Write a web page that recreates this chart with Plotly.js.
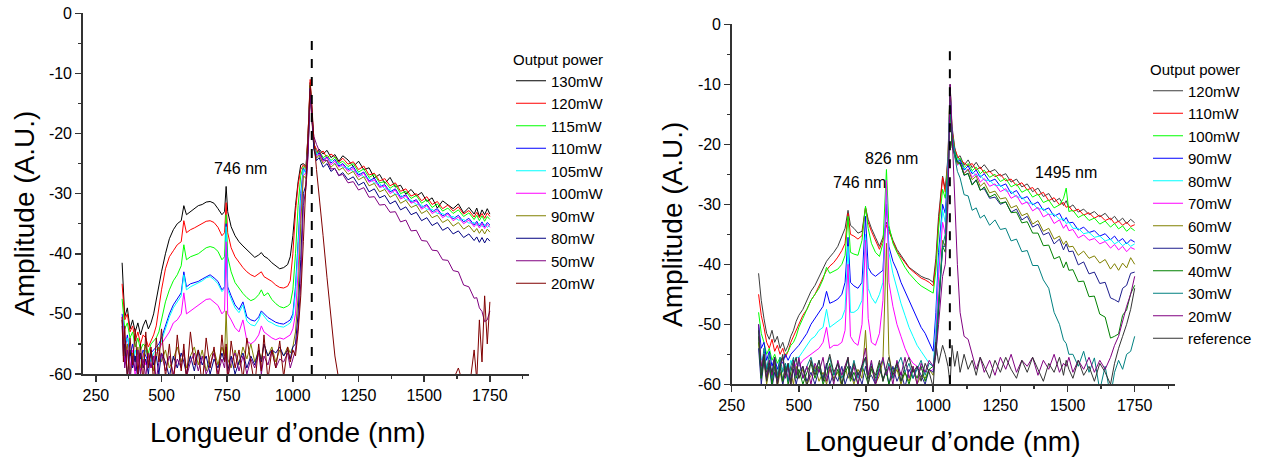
<!DOCTYPE html>
<html>
<head>
<meta charset="utf-8">
<script src="https://cdn.plot.ly/plotly-3.0.1.min.js"></script>
<style>html,body{margin:0;padding:0;background:#fff;}#chart{width:1277px;height:461px;}</style>
</head>
<body>
<div id="chart"></div>
<script>
// ---------------- LEFT PANEL DATA ----------------
const xLeft = [
350,355,360,370,380,390,400,410,420,430,
440,450,460,470,480,490,500,515,530,545,
560,575,585,595,610,625,640,655,670,685,
700,715,730,740,746,752,765,780,795,810,
825,840,855,870,880,890,905,920,935,950,
965,980,990,1000,1010,1020,1030,1040,1050,1058,
1066,1072,1080,1090,1100,1115,1130,1145,1160,1175,
1190,1210,1230,1250,1270,1290,1310,1330,1350,1370,
1390,1410,1430,1450,1470,1490,1510,1530,1550,1570,
1590,1610,1630,1650,1670,1690,1700,1710,1720,1730,
1740,1750];

const leftNames = ['130mW','120mW','115mW','110mW','105mW','100mW','90mW','80mW','50mW','20mW'];
const leftColors = ['#000000','#ff0000','#00ff00','#0000ff','#00ffff','#ff00ff','#808000','#000080','#800080','#800000'];

const left130 = [
-41.5,-46,-50.5,-49,-52.5,-51,-53,-51.5,-53.5,-52,
-51,-52.5,-51.5,-50,-47.5,-45,-43,-40,-37.5,-36,
-35,-34.5,-32,-33.5,-33,-32.5,-32,-31.8,-31.4,-31.3,
-31.6,-32.5,-33.5,-33,-28.8,-33,-35.5,-37,-38,-38.7,
-39.3,-40,-40.6,-40.2,-39.8,-40.4,-40.8,-41.5,-42,-42.5,
-42.3,-41.8,-40.5,-37,-32,-28,-25.2,-25,-25.5,-20,
-11.5,-16,-21.5,-23.3,-22.6,-23.4,-22.8,-24,-23.5,-24.6,
-23.7,-24.4,-25.5,-24.6,-26,-25.7,-27.4,-26.8,-28.3,-27.3,
-28.9,-28.6,-30.1,-29.3,-30.4,-29.8,-31.3,-30.7,-32.4,-31.2,
-31.8,-32.5,-31.7,-33.2,-32.3,-33.4,-32.4,-33.8,-32.7,-33.5,
-32.5,-33.4];
const left120 = [
-45,-47.5,-51,-50,-53,-52,-54.5,-53,-55,-53.5,
-54,-55.5,-54.5,-53.5,-52,-49,-46,-42.5,-40.5,-39.5,
-38.5,-38,-34.5,-36.5,-36,-35.7,-35.3,-35,-34.6,-34.5,
-34.8,-35.6,-37,-36.5,-31.5,-36.5,-39,-40.5,-41.5,-42.3,
-43,-43.5,-43.8,-43.4,-43,-43.8,-44.2,-44.6,-45.2,-45.6,
-45.7,-45.4,-44.5,-40,-33,-28.5,-26,-25.2,-25.8,-20,
-11,-15.5,-21.8,-22.6,-23.5,-22.9,-24.1,-23.4,-23.9,-24.8,
-24.1,-25.1,-24.7,-26,-25.4,-26.9,-26.6,-27.9,-27.5,-28.7,
-28.2,-29.6,-29.2,-30.4,-30,-31.2,-30.5,-31.8,-31.3,-32.5,
-31.9,-32.9,-32.2,-33.4,-32.8,-33.9,-33.1,-34,-33.3,-34.1,
-33.2,-33.8];
const left115 = [
-47.5,-50,-52.5,-51.5,-54,-53,-55.5,-54,-56,-55,
-55.5,-56.5,-55,-54.5,-54,-53,-51,-48,-46,-44.5,
-43.5,-42,-38.5,-41,-40.5,-40.2,-40,-39.5,-39,-38.8,
-39,-39.6,-41,-40.5,-33.5,-40.5,-43,-44.8,-45.8,-46.6,
-47.3,-47.8,-47.5,-46.8,-46,-47,-46.5,-47.6,-48.3,-48.8,
-49,-48.7,-48.3,-46,-40,-32,-27,-25.5,-26,-21,
-12,-16,-22,-23.4,-22.9,-24,-23.6,-24.5,-23.9,-25,
-24.6,-25.5,-25,-26.4,-25.9,-27.3,-26.8,-28.2,-28,-29.1,
-28.5,-30,-29.6,-30.8,-30.3,-31.6,-31,-32.3,-31.7,-32.9,
-32.4,-33.3,-32.7,-33.8,-33.2,-34.3,-33.6,-34.5,-33.7,-34.6,
-33.8,-34.3];
const left110 = [
-50,-52,-56,-53.5,-57,-55,-58,-56,-57.5,-56,
-57,-58,-56.5,-56,-55.5,-55,-54,-52,-50,-48.5,
-47.5,-46.5,-43,-45.5,-45,-44.8,-44.6,-44.2,-43.8,-43.5,
-44,-44.6,-46,-45.5,-35,-45.5,-47,-48.5,-49.3,-48,
-50.5,-51,-51.2,-50.5,-49.5,-50,-50.6,-51,-51.4,-51.6,
-51.7,-51.3,-51,-50,-45.5,-38,-30,-25.8,-26.5,-21.5,
-12.5,-16.5,-22.2,-23.6,-23.2,-24.4,-23.9,-24.9,-24.3,-25.4,
-25,-26,-25.5,-26.9,-26.4,-27.9,-27.4,-28.8,-28.5,-29.7,
-29.2,-30.6,-30.2,-31.4,-31,-32.3,-31.8,-33,-32.5,-33.7,
-33.2,-34.2,-33.6,-34.7,-34.1,-35.2,-34.6,-35.4,-34.7,-35.5,
-34.8,-35.2];
const left105 = [
-51,-53,-55,-54,-56,-57.5,-56,-58,-56.5,-57.5,
-56,-57,-58,-56.5,-56,-55.5,-54.5,-52.5,-50.5,-49,
-48,-47,-43.5,-46,-45.5,-45.2,-44.9,-44.5,-44,-43.8,
-44.3,-45,-46.3,-45.8,-35.5,-46,-47.5,-49,-49.8,-48.5,
-51.2,-51.8,-52,-51,-49.8,-50.4,-51.2,-51.5,-51.9,-52.1,
-52.2,-51.8,-51.5,-50.5,-46.5,-39,-31,-26,-26.7,-22,
-12.5,-16.8,-22.3,-23.3,-23.8,-24.1,-24.6,-24.4,-25.1,-25,
-25.6,-25.7,-26.3,-26.5,-27.2,-27.4,-28.2,-28.3,-29.2,-29.3,
-30.1,-30.2,-31,-31.1,-31.8,-31.9,-32.6,-32.6,-33.3,-33.3,
-33.9,-33.8,-34.4,-34.3,-34.9,-34.8,-35.3,-35,-35.5,-35.1,
-35.6,-35.3];
const left100 = [
-50.5,-53,-58,-55,-59,-56,-60.5,-57,-59.5,-56.5,
-58.5,-57,-59,-57.5,-56.5,-56,-55,-54,-53,-51.5,
-51,-50,-46.5,-50,-49.5,-49,-48.5,-48,-47.6,-47.5,
-48,-48.6,-50,-49.5,-38,-50,-51,-52.3,-53,-51,
-54.5,-55,-54.5,-53.5,-52,-53,-53.5,-54,-54.3,-54,
-54.2,-53.8,-53.5,-52.5,-50,-43,-33,-27,-26.5,-22,
-12.5,-17,-22.4,-23.9,-23.4,-24.7,-24,-25.2,-24.6,-25.6,
-25.2,-26.3,-25.8,-27.2,-26.6,-28.1,-27.7,-29,-28.7,-30,
-29.4,-30.9,-30.4,-31.6,-31.2,-32.6,-32,-33.3,-32.8,-34,
-33.4,-34.5,-33.9,-35,-34.4,-35.5,-34.9,-35.7,-35,-35.8,
-35.1,-35.6];
const left90 = [
-51,-54,-57,-55,-60,-56.5,-58,-55.5,-59,-57,
-55,-58.5,-56,-59.5,-57,-55.5,-58,-56,-59,-57.5,
-55.5,-58,-56.5,-59,-57,-55.5,-58.5,-56,-59.5,-57,
-56,-58.5,-55.5,-57,-49.5,-57.5,-59,-56,-58.5,-55.5,
-57.5,-55,-58,-56,-57.5,-55,-57,-55.5,-58,-56,
-57,-55.5,-56.5,-55.5,-53,-47,-35,-27,-27.5,-22.5,
-13,-17.5,-22.5,-24.1,-23.6,-25,-24.4,-25.6,-25,-26.1,
-25.7,-26.8,-26.3,-27.7,-27.2,-28.7,-28.3,-29.7,-29.3,-30.6,
-30.1,-31.6,-31.1,-32.3,-31.9,-33.3,-32.8,-34,-33.6,-34.8,
-34.3,-35.4,-34.8,-35.9,-35.3,-36.4,-35.8,-36.6,-35.9,-36.7,
-35.9,-36.4];
const left80 = [
-52,-57,-55,-60.5,-56,-59,-57,-61,-56.5,-59,
-57.5,-60,-56,-58.5,-57,-60,-56.5,-58,-60.5,-57,
-59,-56.5,-58,-60,-57,-59.5,-56,-58.5,-57,-60,
-57.5,-59,-56.5,-58,-55.5,-59.5,-57,-60,-58,-56.5,
-59,-57,-58.5,-56,-58,-55,-57,-56,-56.5,-55.5,
-57,-56,-57.5,-55.5,-55,-50,-41,-30,-28.5,-23,
-12.5,-17,-22.6,-24.5,-24,-25.6,-25,-26.3,-25.8,-27,
-26.5,-27.7,-27.2,-28.6,-28.1,-29.7,-29.2,-30.7,-30.3,-31.7,
-31.2,-32.7,-32.2,-33.5,-33.1,-34.5,-34,-35.3,-34.8,-36.1,
-35.6,-36.7,-36.2,-37.3,-36.7,-37.8,-37.2,-38.1,-37.3,-38.2,
-37.4,-37.9];
const left50 = [
-51,-55,-59,-56,-61,-57,-59.5,-56,-60,-57.5,
-60.5,-56.5,-59,-57,-61,-58,-56.5,-59.5,-57,-60,
-57.5,-59,-56,-60.5,-58,-56.5,-59.5,-57,-60,-58.5,
-56.5,-60,-57.5,-59,-56,-60.5,-58,-56.5,-59.5,-57,
-60,-57.5,-59,-56.5,-60,-57,-58.5,-56,-59,-57.5,
-58,-56.5,-59,-57.5,-56,-52,-45,-32,-29,-23.5,
-13,-17.5,-20.5,-21.8,-22.8,-24.4,-24.5,-25.9,-25.8,-27,
-26.8,-28.2,-28,-29.4,-29,-30.6,-30.5,-31.9,-31.8,-33.1,
-33,-34.7,-34.4,-36.2,-36.1,-37.8,-37.9,-39.4,-39.5,-41,
-41.1,-42.8,-43,-45.2,-45.5,-47.4,-47.3,-49,-49.6,-51.3,
-51,-49.5];
const left20 = [
-50.5,-58,-52,-61,-54,-58.5,-52.5,-60,-55,-62,
-53,-59,-55.5,-61.5,-54,-58,-52.5,-60.5,-55,-62,
-53.5,-59.5,-55,-61,-53,-58.5,-56,-62,-54,-59,
-55.5,-61.5,-53.5,-58,-55,-62,-54.5,-59,-56,-61,
-54,-58.5,-62,-55,-59.5,-53.5,-61,-56,-59,-54.5,
-60.5,-55.5,-58,-56,-57,-53,-47,-38,-28,-20,
-12,-15,-21,-26,-30,-37,-44,-51,-57,-61,
-62,-61,-63,-62,-61.5,-63,-62,-61,-63,-62,
-62,-61,-63,-62,-61.5,-62,-63,-61,-62,-63,
-62,-61,-59,-62,-63,-56,-61,-51,-58,-47,
-55,-48];
const leftSeries = [left130,left120,left115,left110,left105,left100,left90,left80,left50,left20];

// ---------------- RIGHT PANEL DATA ----------------
const xRight = [
350,355,360,370,380,390,400,410,420,430,
440,450,460,470,480,490,500,515,530,545,
560,575,590,603,615,630,645,660,672,683,
692,705,720,735,748,758,770,785,800,813,
826,835,850,865,880,895,910,925,940,955,
970,985,1000,1010,1020,1035,1045,1055,1063,1070,
1080,1090,1100,1115,1130,1145,1160,1175,1190,1210,
1230,1250,1270,1290,1310,1330,1350,1370,1390,1410,
1430,1450,1470,1485,1495,1505,1520,1540,1560,1580,
1600,1620,1640,1660,1675,1690,1705,1720,1735,1750];

const rightNames = ['120mW','110mW','100mW','90mW','80mW','70mW','60mW','50mW','40mW','30mW','20mW','reference'];
const rightColors = ['#3c3c3c','#ff0000','#00ff00','#0000ff','#00ffff','#ff00ff','#808000','#1c1c8c','#008000','#008080','#800080','#333333'];

const right120 = [
-41.5,-44,-46,-49,-51.5,-52.5,-51,-53,-52,-54,
-53,-54.5,-53.5,-52,-51,-49.5,-48.5,-47.5,-46,-44.5,
-43.5,-42,-40.5,-39.5,-38.8,-38,-37,-35.5,-34,-31,
-33.5,-34,-34.8,-34.5,-30.5,-32.5,-34,-35.5,-37,-35.5,
-33,-34,-36,-37.5,-38.5,-39.5,-40.5,-41,-41.5,-42,
-42.3,-42.5,-43,-39,-32,-25.3,-27.5,-22,-10,-17,
-20.5,-22.3,-21.9,-23.5,-22.6,-23.9,-23,-24.1,-23.4,-24.6,
-24.2,-25.3,-24.9,-26.3,-25.8,-27.1,-26.6,-27.9,-27.3,-28.7,
-28.2,-29.6,-29,-30.2,-29.4,-30.6,-30.1,-31.3,-30.8,-31.7,
-31.2,-32.1,-31.5,-32.6,-32,-32.9,-32.3,-33.2,-32.5,-33.1];
const right110 = [
-45,-47,-48.5,-50.5,-53,-54,-52.5,-54.5,-53.5,-55,
-54,-55.5,-54.5,-53,-52,-51,-50,-48.5,-47.5,-46,
-45,-43.5,-42,-41,-40.3,-39.7,-38.8,-37.7,-36.5,-31.5,
-35,-35.3,-35.8,-35.2,-30.5,-33,-34.5,-36,-37.5,-36,
-33.5,-34.5,-36.2,-37.8,-38.8,-39.8,-40.6,-41.2,-41.8,-42.3,
-42.6,-43,-43.6,-40,-33,-25.5,-28,-22.5,-10.5,-17.5,
-20.8,-21.9,-22.6,-23.1,-23.6,-23.2,-24.3,-23.8,-24.8,-24.5,
-25.4,-25,-26.1,-25.8,-26.9,-26.4,-27.6,-27.2,-28.5,-28,
-29.4,-28.9,-30.1,-29.7,-30.5,-30.3,-31.2,-30.8,-31.8,-31.4,
-32.3,-31.8,-32.7,-32.3,-33.2,-32.8,-33.5,-33,-33.7,-33.4];
const right100 = [
-48,-50,-51.5,-53,-55,-54,-56,-55,-56.5,-55.5,
-56,-55,-54.5,-53.5,-53,-52,-50.5,-49,-47.5,-46,
-45,-44,-42.5,-40.5,-41.5,-41.2,-40.8,-40,-38.5,-32,
-38,-38.3,-38.5,-36,-30.3,-34,-36.5,-38,-38.7,-36.5,
-24.2,-33.5,-36.5,-38,-39.3,-40.5,-41.5,-42.3,-43,-43.6,
-44,-44.3,-44.8,-41,-34,-27.5,-29,-23,-10.5,-18,
-21,-22.6,-22.3,-23.9,-23.2,-24.4,-23.8,-24.9,-24.3,-25.5,
-25,-26.2,-25.7,-27.1,-26.6,-28,-27.5,-28.8,-28.3,-29.7,
-29.3,-30.6,-30.1,-29,-27.3,-31.2,-31,-32.2,-31.7,-32.7,
-32.3,-33.3,-32.8,-33.8,-33.2,-34.1,-33.6,-34.5,-33.9,-34.4];
const right90 = [
-50,-52,-54,-53,-56,-54.5,-57,-55.5,-57.5,-56,
-56.5,-55,-56,-55,-54.5,-54,-53.5,-52.5,-51.5,-50,
-49,-48,-47,-44.5,-46.5,-46.2,-45.8,-45,-43,-35.5,
-43,-43.6,-44,-43,-32,-40.5,-41.5,-42,-41.5,-41,
-30,-37,-39.5,-41,-43,-44.5,-46,-47.5,-49,-50.5,
-51.5,-53,-54.5,-48,-38,-30,-31.5,-24,-11,-18.5,
-21.3,-22.9,-22.6,-24.3,-23.6,-24.9,-24.3,-25.5,-24.9,-26.2,
-25.8,-27,-26.6,-28.2,-27.7,-29.1,-28.7,-30.1,-29.6,-31,
-30.6,-32,-31.5,-32.8,-32.2,-33.1,-33,-34.3,-33.8,-34.7,
-34.4,-35.3,-34.9,-35.9,-35.3,-36.2,-35.7,-36.6,-35.9,-36.3];
const right80 = [
-51,-54,-56,-55,-57.5,-56,-58,-56.5,-58.5,-57,
-57.5,-56.5,-58,-56,-57,-55.5,-55.5,-54.5,-53.5,-52.5,
-52,-51,-50.5,-47.5,-50.5,-50,-49.5,-49,-47.5,-37,
-48,-48,-47.5,-46,-35,-44,-45.5,-46.5,-45,-43,
-27.5,-38,-41.5,-44,-46.5,-48.5,-50.5,-52,-53.5,-54.5,
-55.5,-56.5,-57,-50,-40,-31,-33,-25,-11,-19,
-21.5,-22.6,-23.5,-24,-24.5,-24.5,-25.3,-25.1,-26,-26,
-26.9,-26.8,-27.8,-27.8,-28.8,-28.8,-29.8,-29.8,-30.8,-30.7,
-31.7,-31.6,-32.5,-32.4,-33.2,-33,-34,-34,-34.9,-34.7,
-35.5,-35.3,-36.1,-35.8,-36.6,-36.2,-36.9,-36.4,-37,-36.6];
const right70 = [
-52,-55,-58,-56,-59,-57,-59.5,-57.5,-60,-58,
-59,-57.5,-59,-57,-58,-56.5,-57,-56,-55.5,-55,
-54.5,-54,-53,-50.5,-54,-53.5,-53.5,-53,-51,-40,
-52,-53,-53.5,-50,-36,-49,-53,-53.5,-51.5,-46,
-26,-43,-47,-50,-52,-54,-55.5,-56.5,-57,-57.5,
-57.8,-58,-57.5,-52,-42,-33,-35,-26,-11,-19,
-21.8,-23.5,-23,-24.8,-24.1,-25.5,-24.9,-26.3,-25.7,-27,
-26.6,-27.9,-27.4,-29,-28.5,-30,-29.6,-31.1,-30.5,-32.1,
-31.6,-33.2,-32.6,-34,-33.4,-34.4,-34.2,-35.6,-35.1,-36,
-35.7,-36.6,-36.2,-37.3,-36.7,-37.6,-37,-37.9,-37.2,-37.5];
const right60 = [
-53,-57,-59,-56,-60,-57.5,-59,-56.5,-60.5,-58,
-60,-57,-59.5,-58,-60,-57,-59,-57.5,-60,-58.5,
-57,-59.5,-58,-60,-57.5,-59,-58,-60.5,-57,-59,
-58,-60,-57.5,-59,-51,-59,-57,-60,-58.5,-56,
-36.5,-55,-59,-57.5,-60,-58,-59.5,-57,-60,-58.5,
-59,-57.5,-58.5,-54,-46,-36,-37,-27,-12,-20,
-22,-23.3,-23.1,-24.9,-24.2,-25.9,-25.3,-27,-26.4,-28.1,
-27.8,-29.1,-28.9,-30.6,-30.2,-31.9,-31.5,-33.3,-32.7,-34.5,
-34,-35.8,-35.3,-36.7,-36.1,-37.1,-37,-38.5,-37.8,-39,
-38.6,-39.8,-39.2,-40.8,-39.9,-41,-39.8,-40.6,-38.9,-40];
const right50 = [
-54,-57.5,-60,-56,-59,-57,-60.5,-58,-59.5,-57,
-60,-58,-56.5,-59.5,-57.5,-60,-58,-57,-59.5,-58,
-60,-57.5,-59,-56.5,-60,-58,-59.5,-57,-60,-58.5,
-57,-59.5,-58,-60,-57,-59,-58.5,-60,-57.5,-59,
-58,-60,-57,-59.5,-58,-60.5,-57.5,-59,-57,-58.5,
-60,-57.5,-58,-55,-47,-37,-37,-28,-12,-20,
-21.8,-22.9,-23,-25.2,-24.8,-26.7,-25.9,-27.6,-27.4,-29,
-28.8,-30,-29.6,-31.3,-30.8,-32.6,-32,-33.8,-33.3,-35.1,
-34.7,-36.6,-35.8,-37.6,-36.6,-37.9,-37.8,-40.1,-39.6,-41.6,
-41.3,-43.2,-43,-45.6,-45.9,-46.3,-44,-43.5,-41.5,-41.3];
const right40 = [
-52,-56,-59,-55.5,-58,-56,-60,-57,-59,-56.5,
-59.5,-57,-60,-58,-56,-59,-57.5,-60,-58,-56.5,
-59,-57,-60,-58.5,-56.5,-59.5,-57.5,-60,-58,-57,
-59.5,-58,-60,-57,-58.5,-60,-57.5,-59,-56.5,-59.5,
-57.5,-60,-58,-56.5,-59.5,-58,-60,-57.5,-59,-57,
-59.5,-57.5,-57,-54,-47,-37,-38,-28,-12,-20.5,
-21.5,-23,-23.2,-25.1,-24.9,-26.8,-26,-27.7,-27.1,-28.8,
-28.3,-29.8,-29.6,-31.4,-31.3,-33.1,-32.9,-34.8,-34.8,-36.9,
-36.8,-39.1,-38.7,-40.6,-39.6,-41,-40.9,-42.9,-42.8,-45.4,
-45.3,-48.3,-48.8,-52.3,-52,-51.6,-48.5,-47.6,-44.9,-43.5];
const right30 = [
-50.5,-55,-58,-54,-57.5,-55,-59,-56,-58.5,-55.5,
-58,-56.5,-59.5,-57,-55.5,-58.5,-56,-59,-57,-55.5,
-58,-56,-59.5,-57,-55.5,-58.5,-56.5,-59,-57.5,-56,
-58.5,-56,-59,-57.5,-55.5,-58.5,-56.5,-59.5,-57,-56,
-58.5,-56.5,-59,-57,-55.5,-58,-56.5,-59,-57.5,-56,
-58.5,-56.5,-57,-53,-46,-37,-35,-27,-13,-18,
-22,-24.5,-25.6,-28.4,-28.6,-31,-30.6,-32.3,-31.8,-33.5,
-32.6,-34.2,-34,-36.1,-35.8,-37.9,-37.7,-40.2,-40.2,-42.6,
-44,-48,-50,-52.6,-53.2,-55,-55,-57,-54.5,-58,
-55.6,-61,-57,-62,-58,-56,-57.5,-55,-54.5,-52];
const right20 = [
-50,-53,-57,-55,-59,-56,-58.5,-55.5,-60,-57,
-55.5,-59,-57,-60.5,-56,-58.5,-55.5,-59,-57,-60,
-56.5,-58,-55.5,-59.5,-57,-60,-56,-58.5,-57,-55.5,
-59,-57,-60,-56.5,-54,-58.5,-56,-60,-57.5,-55.5,
-58.5,-57,-60,-56,-58.5,-55.5,-59,-57,-60,-56.5,
-58,-56,-57,-55,-50,-42,-40,-30,-10,-18,
-28,-40,-48,-52,-52.5,-55,-57.5,-55.5,-58,-56,
-58.5,-55.5,-57.5,-55,-58,-56,-57,-55.5,-58.5,-56,
-57.5,-55,-58,-56.5,-57,-55.5,-58,-56,-57.5,-55.5,
-58,-56,-57.5,-55.5,-53.5,-52,-49.5,-47,-45,-42];
const rightRef = [
-51,-56,-58.5,-55,-59.5,-56.5,-58,-55.5,-60,-57,
-55,-58.5,-56.5,-60,-57,-55.5,-59,-57,-60.5,-56,
-58.5,-56,-59.5,-57,-55,-58,-56.5,-60,-57.5,-55.5,
-59,-56.5,-58.5,-57,-55.5,-60,-57,-58.5,-56,-59.5,
-57,-55.5,-58.5,-56.5,-59.5,-57,-55.5,-58,-57,-59.5,
-56.5,-58,-60.5,-53,-56.5,-53.5,-55,-57,-60,-53.5,
-57,-54.5,-58,-55,-57.5,-56,-58.5,-55.5,-57,-59,
-56,-58,-55.5,-57.5,-59,-56,-58,-55.5,-57.5,-59.5,
-56.5,-58,-55.5,-58.5,-56,-57.5,-59,-56,-58.5,-57,
-59.5,-56.5,-58,-60,-56.5,-54,-52,-50,-47.5,-44];
const rightSeries = [right120,right110,right100,right90,right80,right70,right60,right50,right40,right30,right20,rightRef];

// tick labels and constants
const xTickVals = [250,500,750,1000,1250,1500,1750];
const xTickText = ['250','500','750','1000','1250','1500','1750'];
const yTickVals = [0,-10,-20,-30,-40,-50,-60];
const yTickText = ['0','-10','-20','-30','-40','-50','-60'];
const pumpLeft = 1072;
const pumpRight = 1062;
const legendTitle = 'Output power';
const xTitle = 'Longueur d\u2019onde (nm)';
const yTitle = 'Amplitude (A.U.)';

// ---------------- BUILD ----------------
const W = 1277, H = 461;
const px = v => v / W;
const py = v => 1 - v / H;

const traces = [];
leftSeries.forEach((ys, i) => traces.push({
  type: 'scatter', mode: 'lines', x: xLeft, y: ys, name: leftNames[i],
  xaxis: 'x', yaxis: 'y', legend: 'legend',
  line: {color: leftColors[i], width: 1}, hoverinfo: 'skip'
}));
rightSeries.forEach((ys, i) => traces.push({
  type: 'scatter', mode: 'lines', x: xRight, y: ys, name: rightNames[i],
  xaxis: 'x2', yaxis: 'y2', legend: 'legend2',
  line: {color: rightColors[i], width: 1}, hoverinfo: 'skip'
}));

const axisCommon = {
  showline: true, linecolor: '#333', linewidth: 1.5, mirror: false,
  showgrid: false, zeroline: false, ticks: 'outside', ticklen: 6, tickwidth: 1.5, tickcolor: '#333',
  tickfont: {size: 16, color: '#000'}, fixedrange: true
};
function xAxis(domain, range, anchor) {
  return Object.assign({}, axisCommon, {
    domain, range, anchor, tickmode: 'array', tickvals: xTickVals, ticktext: xTickText,
    minor: {tick0: 0, dtick: 125, ticks: 'outside', ticklen: 3, tickwidth: 1.5, tickcolor: '#333', showgrid: false}
  });
}
function yAxis(domain, anchor) {
  return Object.assign({}, axisCommon, {
    domain, range: [-60, 0], anchor, tickmode: 'array', tickvals: yTickVals, ticktext: yTickText,
    minor: {tick0: 0, dtick: 5, ticks: 'outside', ticklen: 3, tickwidth: 1.5, tickcolor: '#333', showgrid: false}
  });
}

const font = 'Arial, "Liberation Sans", Helvetica, sans-serif';
const legendCommon = {
  xanchor: 'left', yanchor: 'top', bgcolor: 'rgba(0,0,0,0)', borderwidth: 0,
  font: {size: 15, color: '#000', family: font},
  title: {text: legendTitle, font: {size: 15, color: '#000', family: font}},
  traceorder: 'normal'
};

const annText = (t, x, y, size, angle) => ({
  text: t, xref: 'paper', yref: 'paper', x: px(x), y: py(y), xanchor: 'center', yanchor: 'middle',
  showarrow: false, textangle: angle || 0, font: {size: size, color: '#000', family: font}
});

const layout = {
  width: W, height: H, margin: {l: 0, r: 0, t: 0, b: 0},
  paper_bgcolor: '#fff', plot_bgcolor: '#fff',
  font: {family: font, color: '#000', size: 14},
  showlegend: true,
  xaxis: xAxis([px(82.7), px(529.3)], [200, 1900], 'y'),
  yaxis: yAxis([1 - 374 / H, 1 - 13.3 / H], 'x'),
  xaxis2: xAxis([px(731.7), px(1175)], [250, 1900], 'y2'),
  yaxis2: yAxis([1 - 384.3 / H, 1 - 24.3 / H], 'x2'),
  legend: Object.assign({}, legendCommon, {x: px(511), y: py(45)}),
  legend2: Object.assign({}, legendCommon, {x: px(1148), y: py(55)}),
  shapes: [
    {type: 'line', xref: 'x', yref: 'y', x0: pumpLeft, x1: pumpLeft, y0: -60, y1: -4.1,
     line: {color: '#000', width: 2, dash: 'dash'}},
    {type: 'line', xref: 'x2', yref: 'y2', x0: pumpRight, x1: pumpRight, y0: -60, y1: -3.9,
     line: {color: '#000', width: 2, dash: 'dash'}}
  ],
  annotations: [
    annText('746 nm', 240, 169, 16),
    annText('826 nm', 891, 158, 16),
    annText('746 nm', 859, 182, 16),
    annText('1495 nm', 1066, 172, 16),
    annText(yTitle, 24, 214, 28, -90),
    annText(yTitle, 672, 225, 28, -90),
    annText(xTitle, 288, 432, 28),
    annText(xTitle, 943, 441, 28)
  ]
};

Plotly.newPlot('chart', traces, layout, {staticPlot: true, displayModeBar: false});
</script>
</body>
</html>
